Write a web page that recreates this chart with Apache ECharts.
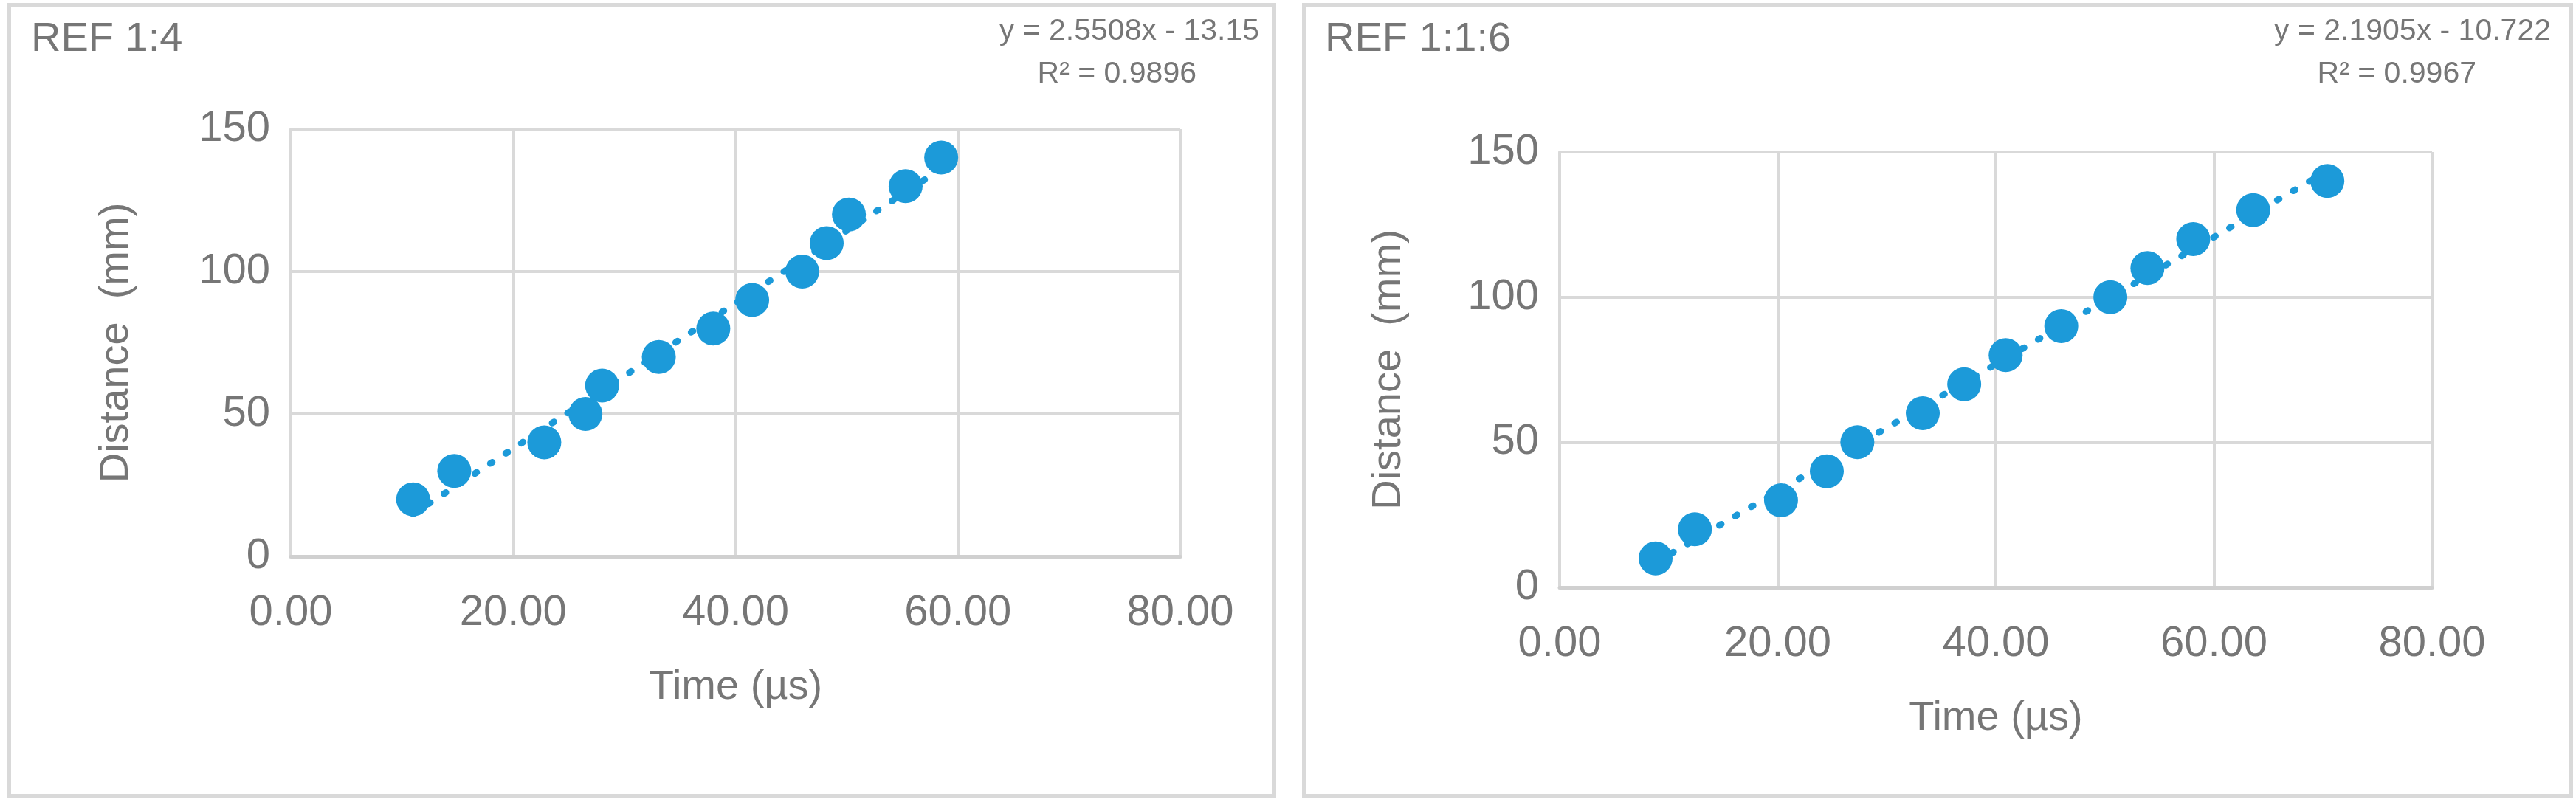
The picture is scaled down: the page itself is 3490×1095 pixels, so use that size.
<!DOCTYPE html>
<html>
<head>
<meta charset="utf-8">
<script src="https://cdn.jsdelivr.net/npm/echarts@6/dist/echarts.min.js"></script>
<style>html,body{margin:0;padding:0;background:#fff}#c{width:3490px;height:1095px}</style>
</head>
<body>
<div id="c"></div>
<script>
"use strict";

var distA = [20, 30, 40, 50, 60, 70, 80, 90, 100, 110, 120, 130, 140];
var timeA = [11.0, 14.7, 22.8, 26.5, 28.0, 33.1, 38.0, 41.5, 46.0, 48.2, 50.2, 55.3, 58.5];
var distB = [10, 20, 30, 40, 50, 60, 70, 80, 90, 100, 110, 120, 130, 140];
var timeB = [8.8, 12.4, 20.3, 24.5, 27.3, 33.3, 37.1, 40.9, 46.0, 50.5, 53.9, 58.1, 63.6, 70.4];
var fitA = { slope: 2.5508, icpt: -13.15, r2: "0.9896", title: "REF 1:4" };
var fitB = { slope: 2.1905, icpt: -10.722, r2: "0.9967", title: "REF 1:1:6" };

var FONT = "Liberation Sans";
var GRAY = "#767676";
var BLUE = "#1c9ad9";

function pairs(xs, ys) {
    return xs.map(function(x, i) { return [x, ys[i]]; });
}
function trend(xs, f) {
    var lo = Math.min.apply(null, xs), hi = Math.max.apply(null, xs);
    return [[lo, f.slope * lo + f.icpt], [hi, f.slope * hi + f.icpt]];
}
function eqText(f) {
    return "y = " + f.slope + "x - " + Math.abs(f.icpt);
}

function xAx(i, gap) {
    return {
        gridIndex: i, type: "value", min: 0, max: 80, interval: 20,
        name: "Time (µs)", nameLocation: "middle", nameGap: gap,
        nameTextStyle: { fontFamily: FONT, fontSize: 56, color: GRAY },
        axisLabel: { fontFamily: FONT, fontSize: 58, color: GRAY, margin: 48, formatter: function(v) { return v.toFixed(2); } },
        axisLine: { lineStyle: { color: "#d0d0d0", width: 5 } },
        axisTick: { show: false },
        splitLine: { lineStyle: { color: "#d9d9d9", width: 4 } }
    };
}
function yAx(i, gap) {
    return {
        gridIndex: i, type: "value", min: 0, max: 150, interval: 50,
        name: "Distance  (mm)", nameLocation: "middle", nameGap: gap,
        nameTextStyle: { fontFamily: FONT, fontSize: 56, color: GRAY },
        axisLabel: { fontFamily: FONT, fontSize: 58, color: GRAY, margin: 28 },
        axisLine: { show: true, lineStyle: { color: "#d9d9d9", width: 4 } },
        axisTick: { show: false },
        splitLine: { lineStyle: { color: "#d9d9d9", width: 4 } }
    };
}
function series(i, xs, ys, f) {
    return [{
        type: "line", xAxisIndex: i, yAxisIndex: i, data: trend(xs, f), symbol: "none", silent: true,
        lineStyle: { color: BLUE, width: 9, type: [3, 22], cap: "round" }, z: 1
    }, {
        type: "scatter", xAxisIndex: i, yAxisIndex: i, data: pairs(xs, ys),
        symbolSize: 46, itemStyle: { color: BLUE, opacity: 1 }, z: 2
    }];
}
function txt(x, y, s, size, align) {
    return { type: "text", left: align === "right" ? null : x, right: align === "right" ? 3490 - x : null, top: y,
        style: { text: s, fontFamily: FONT, fontSize: size, fill: GRAY } };
}

var chart = echarts.init(document.getElementById("c"));
chart.setOption({
    animation: false,
    grid: [
        { left: 394, top: 175, width: 1205, height: 579 },
        { left: 2113, top: 206, width: 1182, height: 590 }
    ],
    xAxis: [xAx(0, 150), xAx(1, 150)],
    yAxis: [yAx(0, 208), yAx(1, 203)],
    series: series(0, timeA, distA, fitA).concat(series(1, timeB, distB, fitB)),
    graphic: [
        { type: "rect", shape: { x: 12, y: 7, width: 1714, height: 1072 }, style: { fill: "none", stroke: "#d9d9d9", lineWidth: 6 } },
        { type: "rect", shape: { x: 1767, y: 7, width: 1716, height: 1072 }, style: { fill: "none", stroke: "#d9d9d9", lineWidth: 6 } },
        txt(42, 26, fitA.title, 56),
        txt(1706, 22, eqText(fitA), 41, "right"),
        txt(1621, 80, "R² = " + fitA.r2, 41, "right"),
        txt(1795, 26, fitB.title, 56),
        txt(3456, 22, eqText(fitB), 41, "right"),
        txt(3355, 80, "R² = " + fitB.r2, 41, "right")
    ]
});
</script>
</body>
</html>
